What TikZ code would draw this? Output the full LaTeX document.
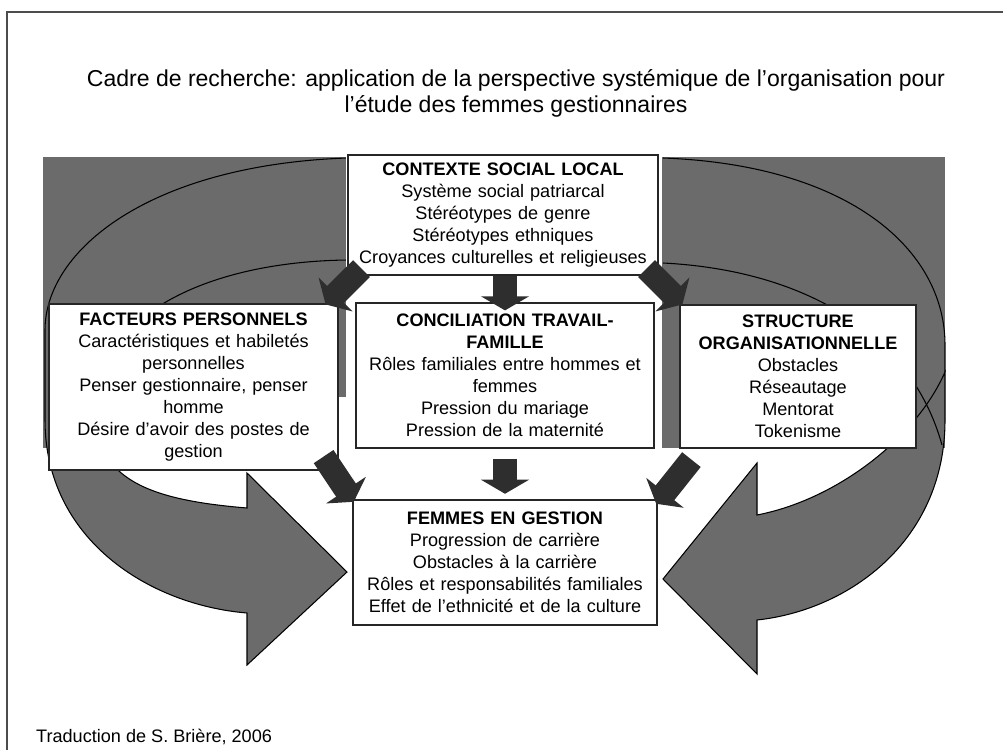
\documentclass[tikz,border=0pt]{standalone}
\usepackage{fontspec}
\setmainfont{Liberation Sans}
\usetikzlibrary{arrows.meta}

\begin{document}
\begin{tikzpicture}[x=0.02cm, y=-0.02cm,
	box/.style={draw=black!85, line width=0.7pt, fill=white, align=center, inner sep=0pt, font=\fontsize{10.3}{12.5}\selectfont},
	texture/.style={fill=black!58, draw=black, line width=0.6pt},
	blockarrow/.style={draw=black!82, line width=13.5pt, -{Triangle[length=8pt, width=27pt]}}]
	\useasboundingbox (0,0) rectangle (1003,750);
	\draw[black!70, line width=0.6pt] (1003,12) -- (7,12) -- (7,750);
	\node (title) at (516,93) [align=center, font=\fontsize{13.1}{14.8}\selectfont]
		{Cadre de recherche: application de la perspective systémique de l'organisation pour\\l'étude des femmes gestionnaires};
	\node (source) at (30,737) [anchor=west, font=\fontsize{10.3}{12.5}\selectfont] {Traduction de S. Brière, 2006};
	\fill[black!58] (43,157) rectangle (945,448);
	\draw[texture] (347,158) .. controls (150,165) and (45,250) .. (45,330) -- (45,420)
		.. controls (45,540) and (150,605) .. (247,613) -- (247,665) -- (347,572) -- (247,473) -- (247,508)
		.. controls (150,500) and (95,480) .. (95,410) .. controls (95,320) and (200,262) .. (347,260) -- cycle;
	\draw[texture] (945,372) -- (945,420) .. controls (945,540) and (850,610) .. (757,620)
		-- (757,674) -- (663,579) -- (757,463) -- (757,515) .. controls (835,500) and (915,440) .. (945,372) -- cycle;
	\draw[line width=0.6pt] (663,158) .. controls (850,165) and (945,250) .. (945,345) -- (945,372);
	\draw[line width=0.6pt] (663,263) .. controls (800,270) and (910,330) .. (942,445);
	\fill[white] (346,157) rectangle (662,460);
	\fill[white] (338,397) rectangle (347,448);
	\node[box, text width=6.2cm, minimum height=2.4cm] (ctx) at (503,215)
		{\textbf{CONTEXTE SOCIAL LOCAL}\\Système social patriarcal\\Stéréotypes de genre\\Stéréotypes ethniques\\Croyances culturelles et religieuses};
	\node[box, text width=5.78cm, minimum height=3.32cm] (perso) at (193.5,387)
		{\textbf{FACTEURS PERSONNELS}\\Caractéristiques et habiletés\\personnelles\\Penser gestionnaire, penser\\homme\\Désire d'avoir des postes de\\gestion};
	\node[box, text width=5.96cm, minimum height=2.9cm] (concil) at (505,375.5)
		{\textbf{CONCILIATION TRAVAIL-}\\\textbf{FAMILLE}\\Rôles familiales entre hommes et\\femmes\\Pression du mariage\\Pression de la maternité};
	\node[box, text width=4.72cm, minimum height=2.86cm] (struct) at (798,376.5)
		{\textbf{STRUCTURE}\\\textbf{ORGANISATIONNELLE}\\Obstacles\\Réseautage\\Mentorat\\Tokenisme};
	\node[box, line width=1.4pt, text width=6.08cm, minimum height=2.5cm] (femmes) at (505,562.5)
		{\textbf{FEMMES EN GESTION}\\Progression de carrière\\Obstacles à la carrière\\Rôles et responsabilités familiales\\Effet de l'ethnicité et de la culture};
	\coordinate (ctxL) at ([shift={(14,-7)}]ctx.south west);
	\coordinate (ctxM) at ([shift={(2,0)}]ctx.south);
	\coordinate (ctxR) at ([shift={(-12,-7)}]ctx.south east);
	\coordinate (persoT) at ([shift={(-13,1)}]perso.north east);
	\coordinate (concilT) at ([shift={(0,8)}]concil.north);
	\coordinate (structT) at ([shift={(3,0)}]struct.north west);
	\coordinate (persoB) at ([shift={(-15,-14)}]perso.south east);
	\coordinate (concilB) at ([shift={(0,10)}]concil.south);
	\coordinate (structB) at ([shift={(12,11)}]struct.south west);
	\coordinate (femmesL) at ([shift={(2,3)}]femmes.north west);
	\coordinate (femmesM) at ([shift={(0,-5)}]femmes.north);
	\coordinate (femmesR) at ([shift={(-2,5)}]femmes.north east);
	\foreach \from/\to in {
		ctxL/persoT, ctxM/concilT, ctxR/structT,
		persoB/femmesL, concilB/femmesM, structB/femmesR}
	\draw[blockarrow] (\from) -- (\to);
\end{tikzpicture}
\end{document}
